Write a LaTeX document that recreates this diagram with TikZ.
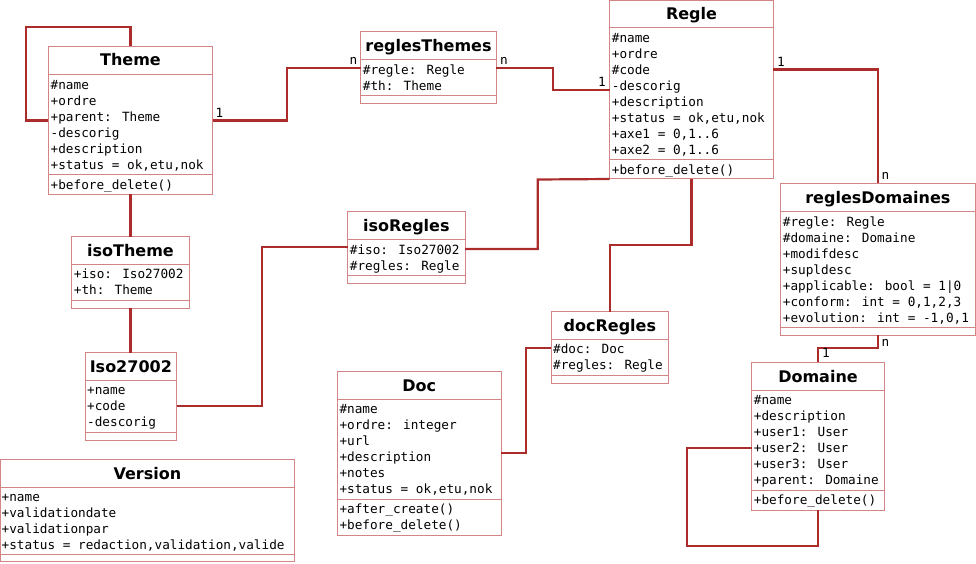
\documentclass[tikz,border=0pt]{standalone}
\usepackage{fontspec}
\newfontfamily\monof{DejaVu Sans Mono}
\newfontfamily\titlef{DejaVu Sans}
\definecolor{boxc}{RGB}{212,132,132}
\definecolor{connc}{RGB}{172,44,44}
\tikzset{
  box/.style={draw=boxc, line width=1pt, fill=white, inner sep=0pt, outer sep=0pt, rectangle},
  sepline/.style={draw=boxc, line width=1pt},
  ttl/.style={inner sep=0pt, font=\titlef\bfseries\fontsize{16}{18}\selectfont},
  txt/.style={inner sep=0pt, anchor=base west, font=\monof\fontsize{12.7}{16}\selectfont},
  conn/.style={draw=connc, line width=2.2pt},
  lbl/.style={inner sep=0pt, anchor=base west, font=\monof\fontsize{12.7}{16}\selectfont}
}
\newcommand{\umlbox}[8]{%
  \node[box, minimum width={#4-#2}, minimum height={#7-#3}, anchor=north west] (#1) at (#2,#3) {};
  \draw[sepline] (#2,#5) -- (#4,#5);
  \draw[sepline] (#2,#6) -- (#4,#6);
  \node[ttl, anchor=base] (#1-title) at ({(#2+#4)/2},{#5-8.3}) {#8};
}
\newcommand{\umllines}[4]{%
  \foreach \t [count=\i from 0] in {#4} {\node[txt] (#1-\i) at (#2,{#3+16*\i}) {\t};}
}
\begin{document}
\begin{tikzpicture}[x=1pt,y=-1pt]
\useasboundingbox (0,0) rectangle (976,564);

% connectors first (boxes drawn on top)
\draw[conn] (130.5,46.5) -- (130.5,26.7) -- (25.7,26.7) -- (25.7,120.5) -- (48.5,120.5);

% boxes
\umlbox{theme}{48.5}{46.5}{212.5}{74.3}{174.3}{194.3}{Theme}
\umllines{theme-a}{50.5}{89.3}{{\#name},{+ordre},{+parent: Theme},{-descorig},{+description},{+status = ok,etu,nok}}
\umllines{theme-m}{50.5}{189.3}{{+before\_delete()}}

\umlbox{reglesthemes}{360.7}{32}{496.3}{60}{95.7}{103.3}{reglesThemes}
\umllines{reglesthemes-a}{362.7}{74.8}{{\#regle: Regle},{\#th: Theme}}

\umlbox{regle}{609.7}{0.5}{773.3}{27.7}{159.7}{179}{Regle}
\umllines{regle-a}{611.7}{42.3}{{\#name},{+ordre},{\#code},{-descorig},{+description},{+status = ok,etu,nok},{+axe1 = 0,1..6},{+axe2 = 0,1..6}}
\umllines{regle-m}{611.7}{174.4}{{+before\_delete()}}

\umlbox{reglesdomaines}{780.7}{183.3}{975}{211.7}{327.7}{335}{reglesDomaines}
\umllines{reglesdomaines-a}{782.7}{226.2}{{\#regle: Regle},{\#domaine: Domaine},{+modifdesc},{+supldesc},{+applicable: bool = 1|0},{+conform: int = 0,1,2,3},{+evolution: int = -1,0,1}}

\umlbox{domaine}{751.7}{362.3}{884.3}{390.7}{490}{510}{Domaine}
\umllines{domaine-a}{753.7}{404.9}{{\#name},{+description},{+user1: User},{+user2: User},{+user3: User},{+parent: Domaine}}
\umllines{domaine-m}{753.7}{504.6}{{+before\_delete()}}

\umlbox{isotheme}{71.7}{236.7}{189.3}{264.3}{300}{308.3}{isoTheme}
\umllines{isotheme-a}{73.7}{278.8}{{+iso: Iso27002},{+th: Theme}}

\umlbox{iso}{85}{352.7}{176.7}{380.3}{432.3}{440}{Iso27002}
\umllines{iso-a}{87}{394.8}{{+name},{+code},{-descorig}}

\umlbox{isoregles}{347.7}{211.7}{465}{239.3}{275.7}{283}{isoRegles}
\umllines{isoregles-a}{349.7}{254.8}{{\#iso: Iso27002},{\#regles: Regle}}

\umlbox{docregles}{551}{311.7}{668.7}{339.3}{375.7}{383}{docRegles}
\umllines{docregles-a}{553}{353.8}{{\#doc: Doc},{\#regles: Regle}}

\umlbox{doc}{337.3}{371.7}{501.3}{399.3}{499}{535}{Doc}
\umllines{doc-a}{339.3}{413.8}{{\#name},{+ordre: integer},{+url},{+description},{+notes},{+status = ok,etu,nok}}
\umllines{doc-m}{339.3}{513.6}{{+after\_create()},{+before\_delete()}}

\umlbox{version}{0.5}{459.3}{294.3}{487.3}{554.3}{561}{Version}
\umllines{version-a}{1.5}{501.6}{{+name},{+validationdate},{+validationpar},{+status = redaction,validation,valide}}

% connectors between boxes
\draw[conn] (theme.east |- 0,120.5) -- (286.7,120.5) -- (286.7,68) -- (reglesthemes.west |- 0,68);
\draw[conn] (reglesthemes.east |- 0,68) -- (552.7,68) -- (552.7,89.7) -- (regle.west |- 0,89.7);
\draw[conn] (regle.east |- 0,69.5) -| (reglesdomaines.north);
\draw[conn] (reglesdomaines.south) -- (reglesdomaines.south |- 0,348) -| (domaine.north);
\draw[conn] (domaine.south) -- (domaine.south |- 0,545.7) -| (686.7,448) -- (domaine.west |- 0,448);
\draw[conn] (theme.south) -- (isotheme.north);
\draw[conn] (isotheme.south) -- (isotheme.south |- iso.north);
\draw[conn] (iso.east |- 0,406) -| (262,247.3) -- (isoregles.west |- 0,247.3);
\draw[conn] (isoregles.east |- 0,249) -| (537.7,179.5) -- (regle.south west);
\draw[conn] (regle.south) -- (regle.south |- 0,245) -| (docregles.north);
\draw[conn] (doc.east |- 0,453) -| (526,347.7) -- (docregles.west |- 0,347.7);

% multiplicity labels
\node[lbl] (l1) at (215.5,117.5) {1};
\node[lbl] (l2) at (349.3,64.3) {n};
\node[lbl] (l3) at (500,64.3) {n};
\node[lbl] (l4) at (597.8,86.7) {1};
\node[lbl] (l5) at (776.8,66.5) {1};
\node[lbl] (l6) at (881.5,179) {n};
\node[lbl] (l7) at (881.5,346) {n};
\node[lbl] (l8) at (821.8,357.7) {1};
\end{tikzpicture}
\end{document}
